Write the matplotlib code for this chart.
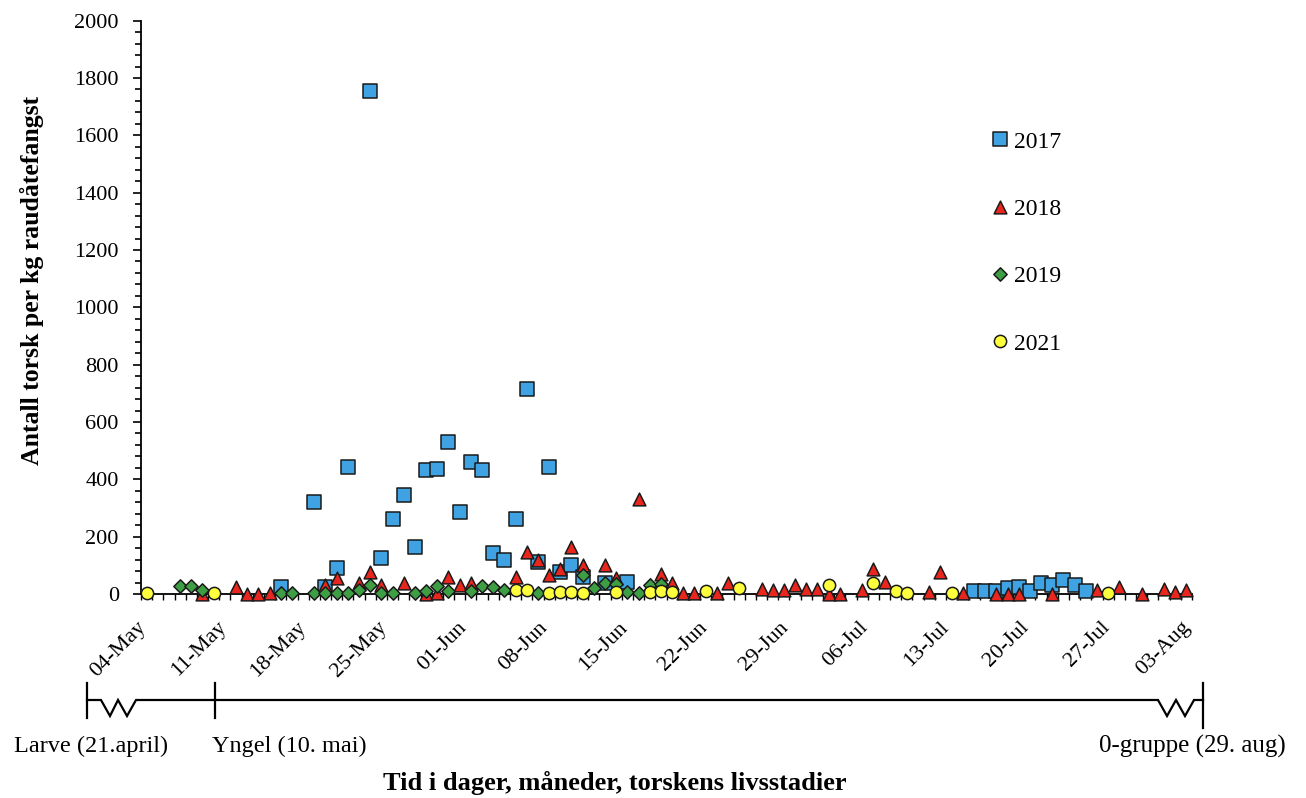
import matplotlib
matplotlib.use('Agg')
import numpy as np
import matplotlib.pyplot as plt
from matplotlib.ticker import MultipleLocator, FixedLocator
from matplotlib.lines import Line2D

plt.rcParams['font.family'] = ['Liberation Serif', 'DejaVu Serif']

# ---------------- data (x = days after 04-May) ----------------
tick_labels = ['04-May', '11-May', '18-May', '25-May', '01-Jun', '08-Jun', '15-Jun',
               '22-Jun', '29-Jun', '06-Jul', '13-Jul', '20-Jul', '27-Jul', '03-Aug']

days_2017 = [12, 15, 16, 17, 18, 20, 21, 22, 23, 24, 25, 26, 27, 28, 29, 30, 31, 32, 33,
             34, 35, 36, 37, 38, 39, 41, 43, 74, 75, 76, 77, 78, 79, 80, 81, 82, 83, 84]
vals_2017 = [24, 322, 25, 92, 442, 1756, 127, 262, 345, 163, 432, 435, 531, 287, 461, 432,
             142, 119, 261, 714, 111, 442, 78, 101, 60, 40, 42, 10, 10, 10, 20, 25, 12, 40,
             32, 50, 33, 9]

days_2018 = [5, 8, 9, 10, 11, 16, 17, 19, 20, 21, 23, 25, 26, 27, 28, 29, 33, 34, 35, 36,
             37, 38, 39, 41, 42, 44, 45, 46, 47, 48, 49, 51, 52, 55, 56, 57, 58, 59, 60, 61,
             62, 64, 65, 66, 70, 71, 73, 76, 77, 78, 81, 85, 87, 89, 91, 92, 93]
vals_2018 = [0, 23, 0, 0, 4, 31, 56, 37, 78, 31, 37, 0, 3, 60, 33, 38, 60, 145, 119, 66,
             87, 165, 101, 101, 55, 330, 31, 70, 37, 3, 3, 3, 40, 18, 14, 14, 33, 16, 18, 0,
             0, 14, 86, 42, 8, 76, 2, 0, 0, 0, 0, 14, 25, 0, 17, 6, 14]

days_2019 = [3, 4, 5, 12, 13, 15, 16, 17, 18, 19, 20, 21, 22, 24, 25, 26, 27, 29, 30, 31,
             32, 35, 39, 40, 41, 42, 43, 44, 45, 46]
vals_2019 = [29, 29, 14, 4, 5, 3, 3, 3, 5, 14, 31, 3, 5, 5, 10, 27, 11, 10, 28, 23,
             14, 2, 65, 22, 40, 35, 6, 3, 30, 35]

days_2021 = [0, 6, 33, 34, 36, 37, 38, 39, 42, 45, 46, 47, 50, 53, 61, 65, 67, 68, 72, 86]
vals_2021 = [5, 3, 13, 15, 3, 6, 8, 5, 6, 7, 9, 6, 9, 20, 30, 38, 9, 2, 5, 3]

series_names = ['2017', '2018', '2019', '2021']

# ---------------- figure ----------------
W, H = 1306, 798
fig = plt.figure(figsize=(W / 100, H / 100), dpi=100)


def fx(px):
    return px / W


def fy(py):
    return 1 - py / H


ax = fig.add_axes([fx(141), fy(594), fx(1192) - fx(141), fy(20.7) - fy(594)])

ec = '#1a1a1a'
ax.scatter(days_2017, vals_2017, marker='s', s=98, facecolor='#3FA2E3', edgecolor=ec,
           linewidth=1.1, zorder=3, label=series_names[0], clip_on=False)
ax.scatter(days_2018, vals_2018, marker='^', s=84, facecolor='#E8261E', edgecolor=ec,
           linewidth=1.1, zorder=4, label=series_names[1], clip_on=False)
ax.scatter(days_2019, vals_2019, marker='D', s=46, facecolor='#3E9E44', edgecolor=ec,
           linewidth=1.1, zorder=5, label=series_names[2], clip_on=False)
ax.scatter(days_2021, vals_2021, marker='o', s=78, facecolor='#FFFF3C', edgecolor=ec,
           linewidth=1.1, zorder=6, label=series_names[3], clip_on=False)

ax.set_xlim(-0.5, 93.5)
ax.set_ylim(0, 2000)

for side in ('top', 'right'):
    ax.spines[side].set_visible(False)
for side in ('left', 'bottom'):
    ax.spines[side].set_linewidth(1.3)
    ax.spines[side].set_color('black')

ax.yaxis.set_major_locator(MultipleLocator(200))
ax.yaxis.set_minor_locator(MultipleLocator(40))
ax.tick_params(axis='y', which='major', direction='out', length=6, width=1.2, labelsize=16, pad=10)
ax.tick_params(axis='y', which='minor', direction='out', length=4, width=1.2)

# the 14 date labels are spread evenly over the full axis width, as in the original
label_pos = np.linspace(-0.32, 93.05, len(tick_labels))
ax.xaxis.set_major_locator(FixedLocator(label_pos))
ax.set_xticklabels(tick_labels, rotation=45, ha='right', va='center', rotation_mode='anchor')
ax.xaxis.set_minor_locator(FixedLocator([d + 0.5 for d in range(-1, 94)]))
ax.tick_params(axis='x', which='major', length=0, labelsize=16, pad=22)
ax.tick_params(axis='x', which='minor', direction='out', length=4, width=1.0)

ax.set_ylabel('Antall torsk per kg raudåtefangst', fontsize=18.5, fontweight='bold')
ax.yaxis.set_label_coords((44 - 141) / 1051, (594 - 280) / 573.3)

leg = ax.legend(loc='upper left', bbox_to_anchor=(fx(993), fy(131)),
                bbox_transform=fig.transFigure, frameon=False, fontsize=17,
                labelspacing=1.94, handletextpad=0.3, handlelength=0.6, borderpad=0,
                borderaxespad=0, scatteryoffsets=[0.5])

# ---------------- life-stage timeline below the axis ----------------
def pline(pts, lw=1.6):
    xs = [fx(p[0]) for p in pts]
    ys = [fy(p[1]) for p in pts]
    fig.add_artist(Line2D(xs, ys, color='black', linewidth=lw, transform=fig.transFigure,
                          solid_joinstyle='miter'))


ty = 700
pline([(87, ty), (101, ty), (110, 716), (118, ty), (127, 716), (136, ty), (1158, ty),
       (1167, 716), (1176, ty), (1185, 716), (1194, ty), (1203, ty)])
pline([(87, 683), (87, 718)])
pline([(215, 683), (215, 718)])
pline([(1203, 683), (1203, 728)])

fig.text(fx(91), fy(746), 'Larve (21.april)', fontsize=17.5, ha='center', va='center')
fig.text(fx(212), fy(746), 'Yngel (10. mai)', fontsize=17.5, ha='left', va='center')
fig.text(fx(1286), fy(746), '0-gruppe (29. aug)', fontsize=18, ha='right', va='center')
fig.text(fx(615), fy(783), 'Tid i dager, måneder, torskens livsstadier', fontsize=19,
         fontweight='bold', ha='center', va='center')

fig.savefig('out.png', dpi=100)
